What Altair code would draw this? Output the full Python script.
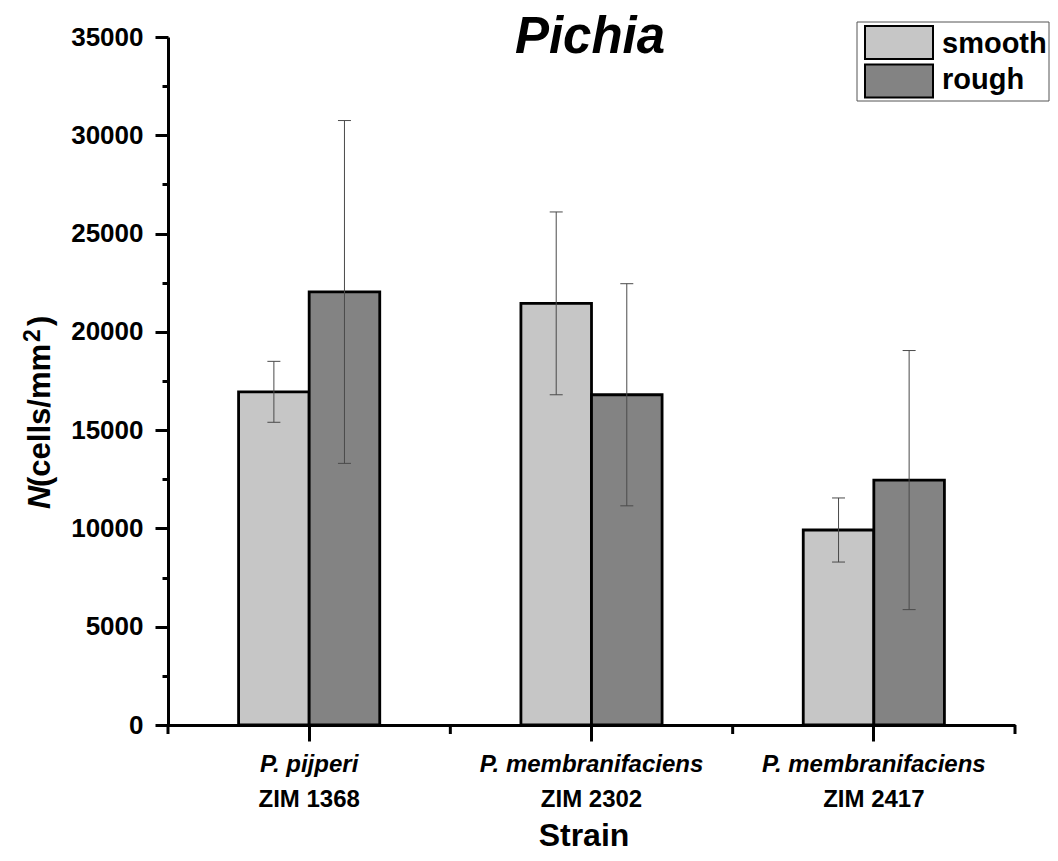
import altair as alt
import pandas as pd

# ---- data ----
ZIM = ["ZIM 1368", "ZIM 2302", "ZIM 2417"]
SPECIES = ["P. pijperi", "P. membranifaciens", "P. membranifaciens"]
SERIES = ["smooth", "rough"]
SMOOTH_MEAN = [16950, 21450, 9920]
SMOOTH_ERR = [1550, 4650, 1630]
ROUGH_MEAN = [22030, 16800, 12460]
ROUGH_ERR = [8720, 5650, 6590]
COLORS = ["#C6C6C6", "#838383"]
Y_TICKS = [0, 5000, 10000, 15000, 20000, 25000, 30000, 35000]
Y_MINOR = [2500, 7500, 12500, 17500, 22500, 27500, 32500]
TITLE = ["Pichia"]
X_TITLE = ["Strain"]
Y_TITLE_PARTS = ["N", "(cells/mm", "2", ")"]

rows = []
for i, z in enumerate(ZIM):
    for s, m, e in (("smooth", SMOOTH_MEAN[i], SMOOTH_ERR[i]), ("rough", ROUGH_MEAN[i], ROUGH_ERR[i])):
        rows.append({"zim": z, "species": SPECIES[i], "series": s, "mean": m,
                     "lower": m - e, "upper": m + e})
df = pd.DataFrame(rows)
df_zim = pd.DataFrame({"zim": ZIM, "species": SPECIES})
df_series = pd.DataFrame({"series": SERIES})

W, H = 847, 688
FONT = "Liberation Sans"

xscale = alt.Scale(domain=ZIM, paddingInner=0, paddingOuter=0)
xoff = alt.Scale(domain=SERIES, paddingInner=0, paddingOuter=1)
yscale = alt.Scale(domain=[0, 35000], nice=False, zero=True)
cscale = alt.Scale(domain=SERIES, range=COLORS)

xenc_noaxis = alt.X("zim:N", scale=xscale, sort=ZIM, axis=None)
xoff_enc = alt.XOffset("series:N", scale=xoff, sort=SERIES)

bars = alt.Chart(df).mark_bar(stroke="black", strokeWidth=2.8, opacity=1).encode(
    x=alt.X("zim:N", scale=xscale, sort=ZIM,
            axis=alt.Axis(labels=False, title=None, tickSize=16, tickWidth=3,
                          domainWidth=3, domainColor="black", tickColor="black",
                          grid=False, zindex=1, orient="bottom")),
    xOffset=xoff_enc,
    y=alt.Y("mean:Q", scale=yscale,
            axis=alt.Axis(values=Y_TICKS, title=None, tickSize=13, tickWidth=3,
                          domainWidth=3, domainColor="black", tickColor="black",
                          labelFont=FONT, labelFontSize=26, labelFontWeight="bold",
                          labelColor="black", labelPadding=12, labelFlush=False,
                          grid=False, zindex=1, format="d", orient="left")),
    fill=alt.Fill("series:N", scale=cscale, legend=None),
)

ERR_COLOR = "#4a4a4a"
err = alt.Chart(df).mark_rule(color=ERR_COLOR, strokeWidth=1).encode(
    x=xenc_noaxis, xOffset=xoff_enc,
    y=alt.Y("lower:Q", scale=yscale,
            axis=alt.Axis(values=Y_MINOR, labels=False, domain=False, tickSize=6,
                          tickWidth=3, tickColor="black", title=None, grid=False,
                          orient="left", zindex=1)),
    y2="upper:Q",
)
cap_u = alt.Chart(df).mark_tick(color=ERR_COLOR, thickness=1, size=13, opacity=1).encode(
    x=xenc_noaxis, xOffset=xoff_enc, y=alt.Y("upper:Q", scale=yscale, axis=None))
cap_l = alt.Chart(df).mark_tick(color=ERR_COLOR, thickness=1, size=13, opacity=1).encode(
    x=xenc_noaxis, xOffset=xoff_enc, y=alt.Y("lower:Q", scale=yscale, axis=None))

# band-edge ticks on the x axis
edge_l = alt.Chart(df_zim).mark_rule(color="black", strokeWidth=3).encode(
    x=alt.X("zim:N", scale=xscale, sort=ZIM, bandPosition=0, axis=None),
    y=alt.value(H), y2=alt.value(H + 9))
edge_r = alt.Chart(df_zim).transform_filter(
    alt.datum.zim == ZIM[-1]).mark_rule(color="black", strokeWidth=3).encode(
    x=alt.X("zim:N", scale=xscale, sort=ZIM, bandPosition=1, axis=None),
    y=alt.value(H), y2=alt.value(H + 9))

# category labels (two lines, mixed styles)
lab_sp = alt.Chart(df_zim).mark_text(font=FONT, fontSize=24, fontWeight="bold",
                                     fontStyle="italic", baseline="alphabetic",
                                     color="black").encode(
    x=xenc_noaxis, y=alt.value(735), text="species:N")
lab_zim = alt.Chart(df_zim).mark_text(font=FONT, fontSize=24, fontWeight="bold",
                                      baseline="alphabetic", color="black").encode(
    x=xenc_noaxis, y=alt.value(770), text="zim:N")

x_title = alt.Chart(pd.DataFrame({"t": X_TITLE})).mark_text(
    font=FONT, fontSize=32, fontWeight="bold", baseline="alphabetic", color="black").encode(
    x=alt.value(416), y=alt.value(809), text="t:N")

title = alt.Chart(pd.DataFrame({"t": TITLE})).mark_text(
    font=FONT, fontSize=51, fontWeight="bold", fontStyle="italic",
    baseline="alphabetic", color="black").encode(
    x=alt.value(422), y=alt.value(16), text="t:N")

# rotated y title
def ypart(txt, x, y, size, italic=False):
    kw = dict(font=FONT, fontSize=size, fontWeight="bold", angle=270, align="left",
              baseline="alphabetic", color="black")
    if italic:
        kw["fontStyle"] = "italic"
    return alt.Chart(pd.DataFrame({"t": [txt]})).mark_text(**kw).encode(
        x=alt.value(x), y=alt.value(y), text="t:N")

yt_n = ypart(Y_TITLE_PARTS[0], -118, 472, 32, italic=True)
yt_a = ypart(Y_TITLE_PARTS[1], -118, 450, 31)
yt_2 = ypart(Y_TITLE_PARTS[2], -128, 305, 23)
yt_b = ypart(Y_TITLE_PARTS[3], -118, 289, 31)

# legend
leg_box = alt.Chart(pd.DataFrame({"k": [0]})).mark_rect(
    fill="white", stroke="#555555", strokeWidth=1).encode(
    x=alt.value(689), x2=alt.value(881), y=alt.value(-15), y2=alt.value(64))
leg_layers = []
for i, s in enumerate(SERIES):
    y0 = -11 + i * 38.5
    leg_layers.append(
        alt.Chart(df_series).transform_filter(alt.datum.series == s).mark_rect(
            stroke="black", strokeWidth=2, opacity=1).encode(
            fill=alt.Fill("series:N", scale=cscale, legend=None),
            x=alt.value(697), x2=alt.value(765), y=alt.value(y0), y2=alt.value(y0 + 33)))
    leg_layers.append(
        alt.Chart(df_series).transform_filter(alt.datum.series == s).mark_text(
            font=FONT, fontSize=29, fontWeight="bold", align="left",
            baseline="alphabetic", color="black").encode(
            x=alt.value(774), y=alt.value(16 + i * 36), text="series:N"))

chart = alt.layer(
    bars, err, cap_u, cap_l, edge_l, edge_r, lab_sp, lab_zim, x_title, title,
    yt_n, yt_a, yt_2, yt_b, leg_box, *leg_layers
).resolve_axis(x="independent", y="independent").properties(
    width=W, height=H,
    autosize=alt.AutoSizeParams(type="none"),
    padding={"left": 160, "top": 29, "right": 35, "bottom": 128},
    background="white",
).configure_view(stroke=None)

chart.save("out.html", embed_options={"renderer": "svg", "actions": False})
